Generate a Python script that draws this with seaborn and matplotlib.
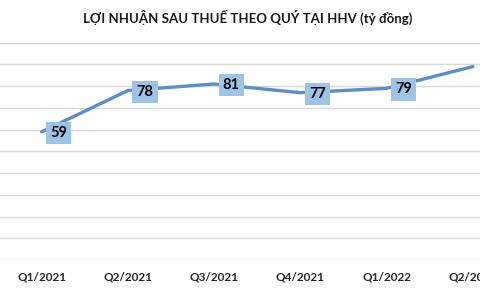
import matplotlib
matplotlib.use("Agg")
import matplotlib.pyplot as plt
import seaborn as sns
import pandas as pd

# Quarterly profit after tax (billion VND)
quarters = ["Q1/2021", "Q2/2021", "Q3/2021", "Q4/2021", "Q1/2022", "Q2/2022"]
profit = [59, 78, 81, 77, 79, 89]
# last label falls outside the cropped picture, so it is left out
labels = ["59", "78", "81", "77", "79", ""]
title = "LỢI NHUẬN SAU THUẾ THEO QUÝ TẠI HHV (tỷ đồng)"

sns.set_style("white")
plt.rcParams["font.family"] = ["Lato", "DejaVu Sans"]

df = pd.DataFrame({"quarter": quarters, "profit": profit})

fig = plt.figure(figsize=(4.8, 2.88), dpi=100, facecolor="white")
# chart is cropped on the right, so the axes runs past the figure edge
ax = fig.add_axes([-0.003, 0.0972, 1.078, 0.7545])

sns.lineplot(data=df, x="quarter", y="profit", ax=ax, color="#5b8fc7",
             linewidth=2.4, sort=False)

ax.set_ylim(0, 100)
ax.set_xlim(-0.5, len(quarters) - 0.5)
ax.set_yticks(range(0, 101, 10))
ax.set_yticklabels([])
ax.tick_params(axis="y", length=0)
ax.tick_params(axis="x", length=0, pad=8, labelsize=8.5, labelcolor="#262626")
for t in ax.get_xticklabels():
    t.set_fontweight("bold")
ax.grid(axis="y", color="#d9d9d9", linewidth=1)
ax.set_xlabel("")
ax.set_ylabel("")
for s in ax.spines.values():
    s.set_visible(False)

for i, (v, lab) in enumerate(zip(profit, labels)):
    if not lab:
        continue
    ax.annotate(lab, (i, v), xytext=(12.3, -0.8), textcoords="offset points",
                ha="center", va="center", fontsize=10.5, fontweight="bold",
                color="black",
                bbox=dict(boxstyle="square,pad=0.28", fc="#9dc3e6", ec="none"))

fig.text(0.515, 0.941, title, ha="center", va="center", fontsize=9.5,
         fontweight="bold", color="#1a1a1a")

fig.savefig("out.png", dpi=100, facecolor="white")
